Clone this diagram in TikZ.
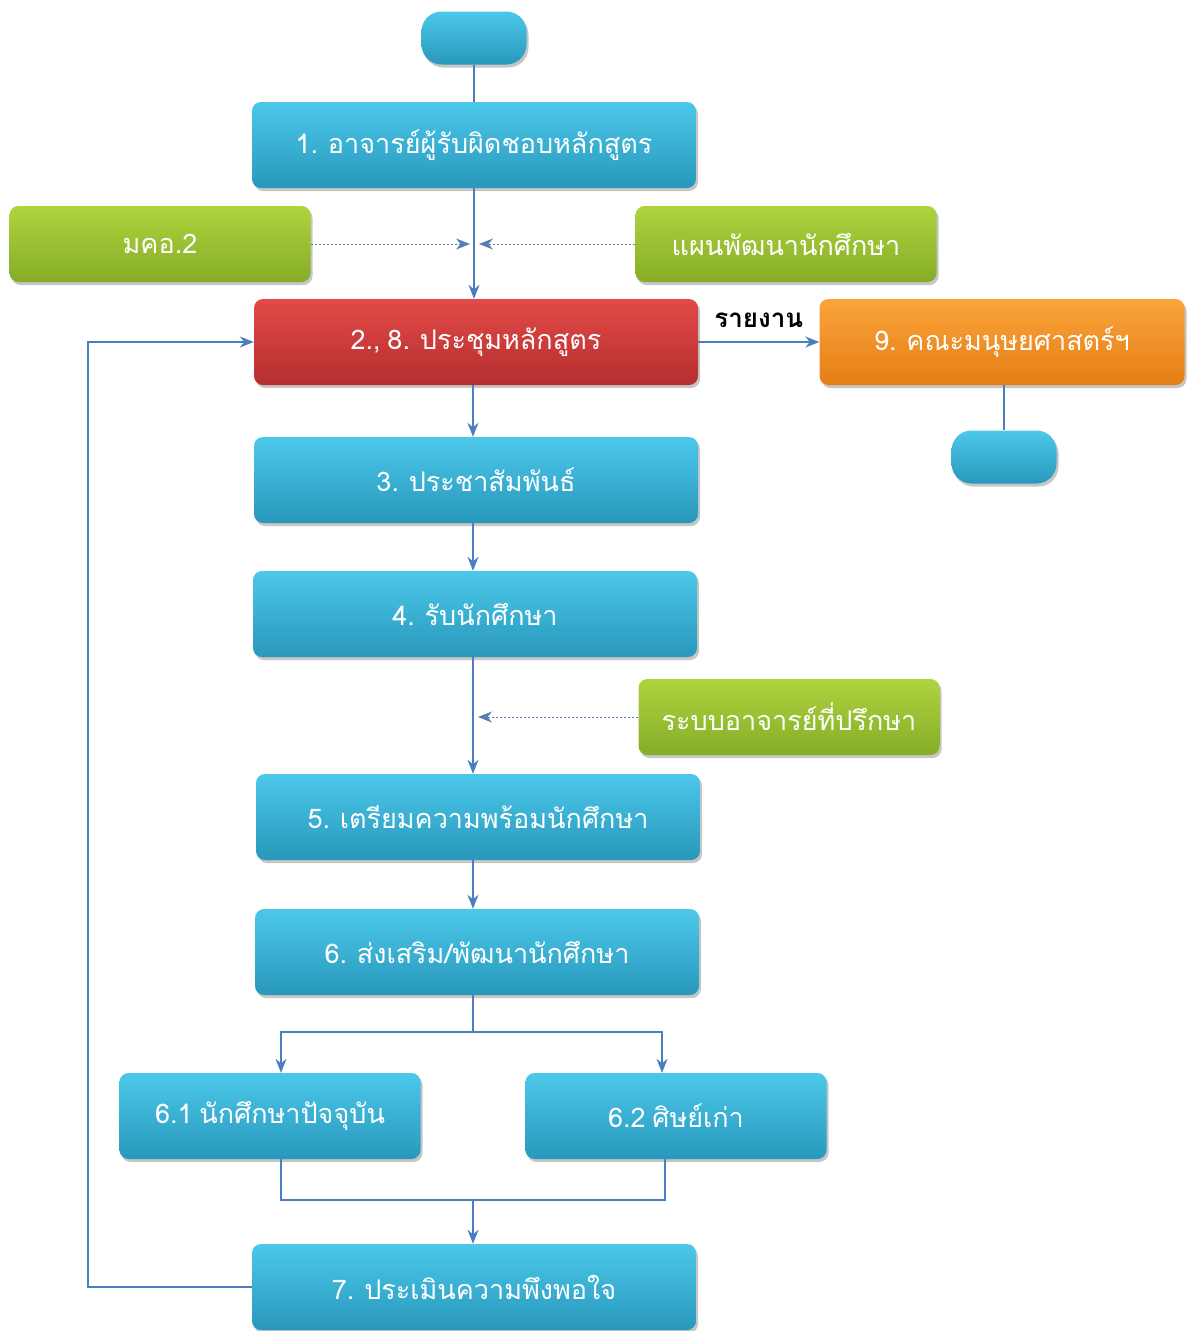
\documentclass[tikz,border=0pt]{standalone}
\usepackage{fontspec}
\newfontfamily\thaifont[Script=Thai,WordSpace=0.75]{Loma}
\usetikzlibrary{positioning,shadows,arrows.meta}

\definecolor{bluetop}{HTML}{4CC8EA}
\definecolor{bluebot}{HTML}{2898BC}
\definecolor{redtop}{HTML}{E24A48}
\definecolor{redbot}{HTML}{B52E2E}
\definecolor{orgtop}{HTML}{F9A43A}
\definecolor{orgbot}{HTML}{E57E16}
\definecolor{grntop}{HTML}{AED43E}
\definecolor{grnbot}{HTML}{86AC28}
\definecolor{flowline}{HTML}{4A7EBF}

\begin{document}
\begin{tikzpicture}[x=1pt,y=-1pt,
box/.style={rounded corners=9pt,minimum width=444pt,minimum height=86pt,
    top color=bluetop,bottom color=bluebot,text=white,
    font=\thaifont\fontsize{27}{32}\selectfont,
    drop shadow={shadow xshift=2pt,shadow yshift=-3pt,opacity=.45}},
sidebox/.style={box,minimum width=301pt,minimum height=76pt,
    top color=grntop,bottom color=grnbot},
term/.style={box,minimum width=105pt,minimum height=53pt,rounded corners=20pt},
flow/.style={draw=flowline,line width=1.6pt},
arr/.style={flow,-{Stealth[length=14pt,width=11pt]}},
note/.style={draw=flowline!80!gray,line width=.8pt,dash pattern=on 2.5pt off 1.5pt,
    -{Stealth[length=14pt,width=11pt]}}]
\useasboundingbox (0,0) rectangle (1187,1331);

% main column
\node (start) [term] at (474,38) {};
\node (mentor) [box] at (474,145) {1. อาจารย์ผู้รับผิดชอบหลักสูตร};
\node (meet) [box,top color=redtop,bottom color=redbot] at (476,342) {2., 8. ประชุมหลักสูตร};
\node (pr) [box] at (476,480) {3. ประชาสัมพันธ์};
\node (admit) [box] at (475,614) {4. รับนักศึกษา};
\node (prep) [box] at (478,817) {5. เตรียมความพร้อมนักศึกษา};
\node (develop) [box] at (477,952) {6. ส่งเสริม/พัฒนานักศึกษา};
\node (current) [box,minimum width=301pt] at (270,1116) {6.1 นักศึกษาปัจจุบัน};
\node (alumni) [box,minimum width=301pt] at (676,1116) {6.2 ศิษย์เก่า};
\node (assess) [box] at (474,1287) {7. ประเมินความพึงพอใจ};

% side inputs
\node (tqf) [sidebox] at (160,244) {มคอ.2};
\node (plan) [sidebox] at (786,244) {แผนพัฒนานักศึกษา};
\node (advisor) [sidebox] at (789,717) {ระบบอาจารย์ที่ปรึกษา};

% faculty
\node (faculty) [box,minimum width=365pt,top color=orgtop,bottom color=orgbot] at (1002,342) {9. คณะมนุษยศาสตร์ฯ};
\node (stop) [term] at (1004,457) {};

\draw [flow] (start) -- (mentor);
\draw [arr] (mentor.south) -- (meet.north -| mentor.south);
\draw [note] (tqf.east) -- (tqf.east -| 470,0);
\draw [note] (plan.west) -- (plan.west -| 479,0);
\draw [arr] (meet) -- node [above=10pt,text=black,font=\thaifont\bfseries\fontsize{26}{30}\selectfont] {รายงาน} (faculty);
\draw [flow] (faculty.south -| stop) -- (stop);
\draw [arr] (meet.south -| 473,0) -- (pr.north -| 473,0);
\draw [arr] (pr.south -| 473,0) -- (admit.north -| 473,0);
\draw [arr] (admit.south -| 473,0) -- (prep.north -| 473,0);
\draw [note] (advisor.west) -- (advisor.west -| 478,0);
\draw [arr] (prep.south -| 473,0) -- (develop.north -| 473,0);
\draw [flow] (develop.south -| 473,0) -- (473,1032) coordinate (split);
\draw [arr] (split) -| (current.north -| 281,0);
\draw [arr] (split) -| (alumni.north -| 662,0);
\draw [flow] (current.south -| 281,0) |- (665,1200) -- (alumni.south -| 665,0);
\draw [arr] (473,1200) -- (assess.north -| 473,0);
\draw [arr] (assess.west) -| ([xshift=-166pt]meet.west) -- (meet.west);
\end{tikzpicture}
\end{document}
